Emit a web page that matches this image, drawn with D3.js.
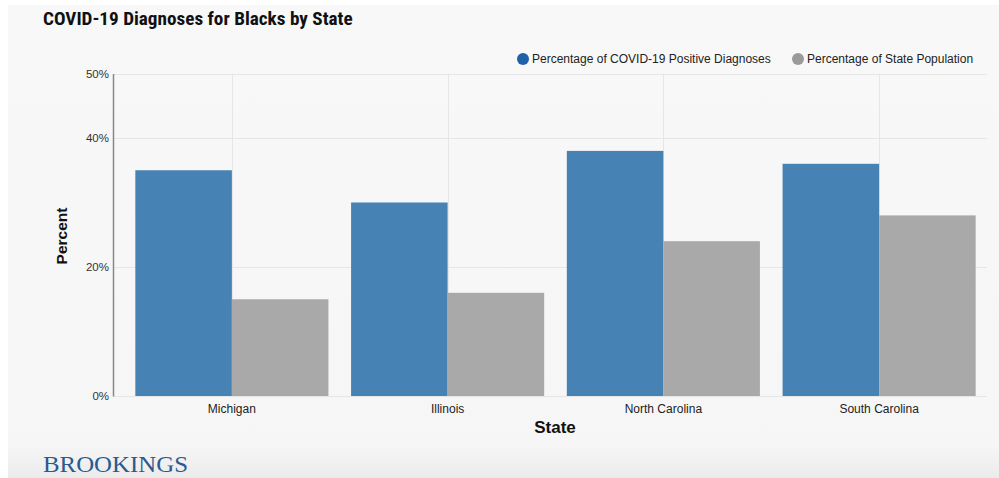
<!DOCTYPE html>
<html>
<head>
<meta charset="utf-8">
<script src="https://cdn.jsdelivr.net/npm/d3@7"></script>
<style>
  body { margin: 0; background: #fff; }
  svg { display: block; font-family: Arial, "Liberation Sans", sans-serif; }
</style>
</head>
<body>
<svg id="chart" width="999" height="478"></svg>
<script>
// data
var states = ['Michigan', 'Illinois', 'North Carolina', 'South Carolina'];
var seriesNames = ['Percentage of COVID-19 Positive Diagnoses', 'Percentage of State Population'];
var covidPct = [35, 30, 38, 36];
var popPct = [15, 16, 24, 28];
var yTicks = [0, 20, 40, 50];

var barColors = ['#4682b4', '#a9a9a9'];
var legendColors = ['#1f61ab', '#9a9a9a'];

var svg = d3.select('#chart');

// background panel
var defs = svg.append('defs');
var grad = defs.append('linearGradient').attr('id', 'bg').attr('x1', 0).attr('x2', 0).attr('y1', 0).attr('y2', 1);
grad.append('stop').attr('offset', '0%').attr('stop-color', '#f8f8f8');
grad.append('stop').attr('offset', '93%').attr('stop-color', '#f6f6f6');
grad.append('stop').attr('offset', '100%').attr('stop-color', '#ebebeb');
svg.append('rect').attr('x', 8).attr('y', 5).attr('width', 991).attr('height', 473).attr('fill', 'url(#bg)');

var y = d3.scaleLinear().domain([0, 50]).range([396, 73.5]);
var x0 = d3.scaleBand().domain(states).range([124, 987]).paddingInner(0.105).paddingOuter(0.0525);
var x1 = d3.scaleBand().domain([0, 1]).range([0, x0.bandwidth()]);

var rows = states.map(function(s, i) { return {state: s, vals: [covidPct[i], popPct[i]]}; });

// grid
var grid = svg.append('g');
grid.selectAll('.hgrid').data(yTicks.filter(function(t) { return t > 0; }))
  .enter().append('line')
  .attr('x1', 113).attr('x2', 987)
  .attr('y1', function(d) { return Math.round(y(d)) + 0.5; })
  .attr('y2', function(d) { return Math.round(y(d)) + 0.5; })
  .attr('stroke', '#e6e6e6').attr('stroke-width', 1);
grid.selectAll('.vgrid').data(states)
  .enter().append('line')
  .attr('x1', function(d) { return Math.round(x0(d) + x0.bandwidth() / 2) + 0.5; })
  .attr('x2', function(d) { return Math.round(x0(d) + x0.bandwidth() / 2) + 0.5; })
  .attr('y1', y(50)).attr('y2', y(0))
  .attr('stroke', '#e6e6e6').attr('stroke-width', 1);
grid.append('line').attr('x1', 113).attr('x2', 987).attr('y1', 396.5).attr('y2', 396.5)
  .attr('stroke', '#e6e6e6');

// bars
var groups = svg.selectAll('.grp').data(rows).enter().append('g')
  .attr('transform', function(d) { return 'translate(' + x0(d.state) + ',0)'; });
groups.selectAll('rect').data(function(d) { return d.vals; })
  .enter().append('rect')
  .attr('x', function(d, i) { return x1(i); })
  .attr('width', x1.bandwidth())
  .attr('y', function(d) { return y(d); })
  .attr('height', function(d) { return y(0) - y(d); })
  .attr('fill', function(d, i) { return barColors[i]; });

// y axis
var yAxis = d3.axisLeft(y).tickValues(yTicks).tickSize(0).tickPadding(4)
  .tickFormat(function(d) { return d + '%'; });
var gy = svg.append('g').attr('transform', 'translate(113,0)').call(yAxis);
gy.select('.domain').attr('stroke', '#888').attr('stroke-width', 1.5);
gy.selectAll('text').attr('font-size', 11.5).attr('fill', '#333').attr('font-family', 'Arial, "Liberation Sans", sans-serif');

// x labels
var xAxis = d3.axisBottom(x0).tickSize(0).tickPadding(8);
var gx = svg.append('g').attr('transform', 'translate(0,396)').call(xAxis);
gx.select('.domain').remove();
gx.selectAll('text').attr('font-size', 12).attr('fill', '#222')
  .attr('font-family', '"Liberation Sans Narrow", Arial, sans-serif');

// axis titles
svg.append('text').attr('transform', 'translate(67,236) rotate(-90)')
  .attr('text-anchor', 'middle').attr('font-weight', 'bold').attr('font-size', 15.5)
  .attr('fill', '#111').text('Percent');
svg.append('text').attr('x', 555).attr('y', 433)
  .attr('text-anchor', 'middle').attr('font-weight', 'bold').attr('font-size', 17)
  .attr('font-family', '"Liberation Sans Narrow", Arial, sans-serif')
  .attr('fill', '#111').text('State');

// title
svg.append('text').attr('x', 43).attr('y', 25)
  .attr('font-family', '"Liberation Sans Narrow", "Roboto Condensed", Arial, sans-serif')
  .attr('font-weight', 'bold').attr('font-size', 19.2).attr('fill', '#111')
  .text('COVID-19 Diagnoses for Blacks by State');

// legend
var legendX = [523, 798];
var leg = svg.selectAll('.leg').data(seriesNames).enter().append('g')
  .attr('transform', function(d, i) { return 'translate(' + legendX[i] + ',59)'; });
leg.append('circle').attr('r', 6).attr('fill', function(d, i) { return legendColors[i]; });
leg.append('text').attr('x', 9).attr('y', 4).attr('font-size', 12).attr('fill', '#222').text(function(d) { return d; });

// logo
svg.append('text').attr('x', 43).attr('y', 472)
  .attr('font-family', '"Liberation Serif", "DejaVu Serif", serif')
  .attr('font-size', 24).attr('fill', '#2a5a8f')
  .attr('textLength', 145).attr('lengthAdjust', 'spacingAndGlyphs')
  .text('BROOKINGS');
</script>
</body>
</html>
